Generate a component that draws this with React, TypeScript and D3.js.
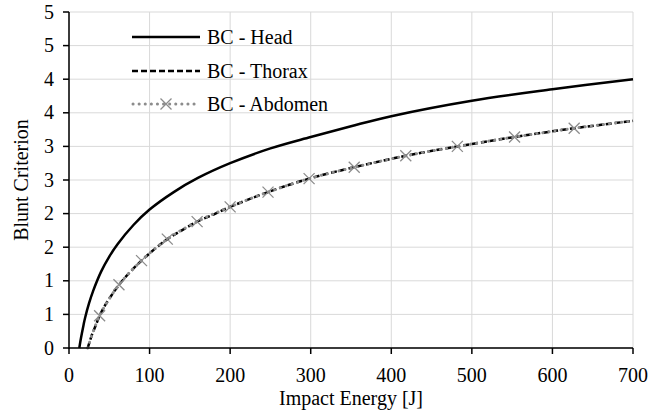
import React from "react";
import * as d3 from "d3";

const xTicks = [0, 100, 200, 300, 400, 500, 600, 700];
const yTicks = [0, 0.5, 1, 1.5, 2, 2.5, 3, 3.5, 4, 4.5, 5];
const yTickLabels = ["0", "1", "1", "2", "2", "3", "3", "4", "4", "5", "5"];

const headE = [12.8, 14, 16, 18, 20, 25, 30, 40, 50, 60, 80, 100, 130, 160, 200, 250, 300, 350, 400, 500, 600, 700];
const headBC = [0, 0.09, 0.22, 0.34, 0.45, 0.67, 0.85, 1.14, 1.36, 1.54, 1.83, 2.06, 2.32, 2.53, 2.75, 2.97, 3.14, 3.3, 3.45, 3.68, 3.85, 4.0];

const thoraxE = [23.2, 25, 28, 32, 38, 45, 52, 62, 75, 90, 105, 122, 140, 159, 180, 200, 247, 298, 354, 418, 482, 553, 627, 700];
const thoraxBC = [0, 0.07, 0.18, 0.3, 0.48, 0.64, 0.77, 0.94, 1.12, 1.3, 1.46, 1.62, 1.75, 1.88, 1.99, 2.1, 2.32, 2.52, 2.69, 2.86, 3.0, 3.14, 3.27, 3.38];

const abdomenE = [23.2, 38, 62, 90, 122, 159, 200, 247, 298, 354, 418, 482, 553, 627, 700];
const abdomenBC = [0, 0.48, 0.94, 1.3, 1.62, 1.88, 2.1, 2.32, 2.52, 2.69, 2.86, 3.0, 3.14, 3.27, 3.38];
const abdomenMarkerIdx = [1, 2, 3, 4, 5, 6, 7, 8, 9, 10, 11, 12, 13];

const legendLabels = ["BC - Head", "BC - Thorax", "BC - Abdomen"];

const W = 649;
const H = 414;
const FONT = "'Liberation Serif', 'Times New Roman', serif";

export default function App() {
  const x = d3.scaleLinear().domain([0, 700]).range([69, 633]);
  const y = d3.scaleLinear().domain([0, 5]).range([348, 12]);
  const line = d3
    .line<[number, number]>()
    .x((d) => x(d[0]))
    .y((d) => y(d[1]))
    .curve(d3.curveCatmullRom.alpha(0.5));

  const headPath = line(headE.map((e, i) => [e, headBC[i]]) as [number, number][]) || "";
  const thoraxPath = line(thoraxE.map((e, i) => [e, thoraxBC[i]]) as [number, number][]) || "";
  const abdPath = line(abdomenE.map((e, i) => [e, abdomenBC[i]]) as [number, number][]) || "";

  const markerColor = "#8c8c8c";
  const xMark = (cx: number, cy: number, key: string | number) => {
    const s = 5.5;
    return (
      <path
        key={key}
        d={`M${cx - s},${cy - s}L${cx + s},${cy + s}M${cx - s},${cy + s}L${cx + s},${cy - s}`}
        stroke={markerColor}
        strokeWidth={1.3}
        fill="none"
      />
    );
  };

  const legendY = [37, 71, 104];

  return (
    <svg
      width={W}
      height={H}
      style={{ position: "absolute", left: 0, top: 0, background: "#fff" }}
      fontFamily={FONT}
    >
      <rect x={0} y={0} width={W} height={H} fill="#fff" />
      {/* gridlines */}
      {yTicks.map((t) => (
        <line key={"gy" + t} x1={x(0)} x2={x(700)} y1={y(t)} y2={y(t)} stroke="#d9d9d9" strokeWidth={1} />
      ))}
      {xTicks.map((t) => (
        <line key={"gx" + t} x1={x(t)} x2={x(t)} y1={y(0)} y2={y(5)} stroke="#d9d9d9" strokeWidth={1} />
      ))}

      {/* series */}
      <path d={headPath} fill="none" stroke="#000" strokeWidth={2.5} />
      <path d={thoraxPath} fill="none" stroke="#000" strokeWidth={2.5} strokeDasharray="6,3" />
      <path
        d={abdPath}
        fill="none"
        stroke={markerColor}
        strokeWidth={3}
        strokeLinecap="round"
        strokeDasharray="0.1,6"
      />
      {abdomenMarkerIdx.map((i) => xMark(x(abdomenE[i]), y(abdomenBC[i]), "m" + i))}

      {/* axes */}
      <line x1={x(0)} x2={x(700)} y1={y(0)} y2={y(0)} stroke="#000" strokeWidth={1.5} />
      <line x1={x(0)} x2={x(0)} y1={y(0) + 0.75} y2={y(5)} stroke="#000" strokeWidth={1.5} />
      {xTicks.map((t) => (
        <g key={"xt" + t}>
          <line x1={x(t)} x2={x(t)} y1={y(0)} y2={y(0) + 6} stroke="#000" strokeWidth={1.5} />
          <text x={x(t)} y={382} textAnchor="middle" fontSize={20} fill="#000">
            {t}
          </text>
        </g>
      ))}
      {yTicks.map((t, i) => (
        <g key={"yt" + t}>
          <line x1={x(0) - 6} x2={x(0)} y1={y(t)} y2={y(t)} stroke="#000" strokeWidth={1.5} />
          <text x={54} y={y(t) + 6.5} textAnchor="end" fontSize={20} fill="#000">
            {yTickLabels[i]}
          </text>
        </g>
      ))}

      {/* axis titles */}
      <text x={(x(0) + x(700)) / 2} y={405} textAnchor="middle" fontSize={20} fill="#000">
        Impact Energy [J]
      </text>
      <text
        transform={`translate(28,${(y(0) + y(5)) / 2}) rotate(-90)`}
        textAnchor="middle"
        fontSize={20}
        fill="#000"
      >
        Blunt Criterion
      </text>

      {/* legend */}
      <line x1={132} x2={200} y1={legendY[0]} y2={legendY[0]} stroke="#000" strokeWidth={2.5} />
      <line x1={132} x2={200} y1={legendY[1]} y2={legendY[1]} stroke="#000" strokeWidth={2.5} strokeDasharray="6,3" />
      <line
        x1={133}
        x2={200}
        y1={legendY[2]}
        y2={legendY[2]}
        stroke={markerColor}
        strokeWidth={3}
        strokeLinecap="round"
        strokeDasharray="0.1,6"
      />
      {xMark(166, legendY[2], "lm")}
      {legendLabels.map((l, i) => (
        <text key={l} x={207} y={legendY[i] + 6.5} fontSize={20} fill="#000">
          {l}
        </text>
      ))}
    </svg>
  );
}
